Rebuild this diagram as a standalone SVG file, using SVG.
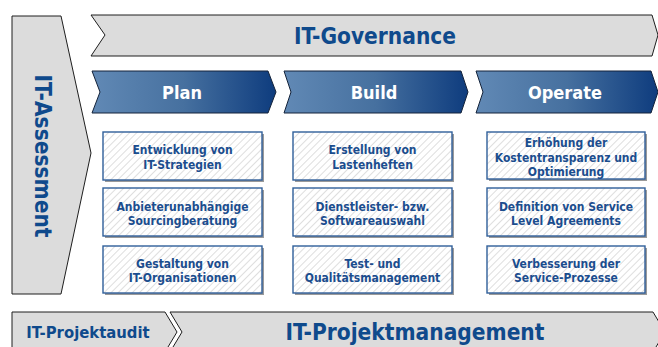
<svg xmlns="http://www.w3.org/2000/svg" width="658" height="347" viewBox="0 0 658 347">
<style>
.gray{fill:#dcdcdc;stroke:#1e1e1e;stroke-width:1}
.chev{fill:url(#blueGrad);stroke:#14233a;stroke-width:1}
.box{fill:url(#hatch);stroke:#2f5f9a;stroke-width:1.4}
.shadow{fill:#9a9a9a}
.t{font-family:"DejaVu Sans Condensed","DejaVu Sans",sans-serif;font-stretch:condensed;font-weight:bold;text-anchor:middle}
.big{font-size:22.5px;fill:#0f4a8c}
.hdr{font-size:18px;fill:#ffffff}
.bx{font-size:12px;fill:#1b4d8e}
.mid{font-size:16.5px;fill:#0f4a8c}
</style>
<defs>
<linearGradient id="blueGrad" x1="0" y1="0" x2="1" y2="0">
<stop offset="0" stop-color="#6189b5"/>
<stop offset="0.5" stop-color="#46709f"/>
<stop offset="1" stop-color="#0e3c7e"/>
</linearGradient>
<pattern id="hatch" patternUnits="userSpaceOnUse" width="5" height="5" patternTransform="rotate(45)">
<rect width="5" height="5" fill="#ffffff"/>
<line x1="0" y1="0" x2="0" y2="5" stroke="#d6d6d6" stroke-width="1.6"/>
</pattern>
</defs>

<g id="it-assessment">
<polygon class="gray" points="12,16 61,16 91,153 61,294 12,294"/>
<text class="t big" transform="translate(35,156) rotate(90)">IT-Assessment</text>
</g>

<g id="it-governance">
<polygon class="gray" points="91,15 652,15 658,35 652,56 91,56 105,35"/>
<text class="t big" x="375" y="44">IT-Governance</text>
</g>

<g id="plan">
<polygon class="chev" points="92,71 268,71 276,92 268,113 92,113 100,92"/>
<text class="t hdr" x="182" y="99">Plan</text>
</g>
<g id="build">
<polygon class="chev" points="284,71 461,71 468,92 461,113 284,113 291,92"/>
<text class="t hdr" x="374" y="99">Build</text>
</g>
<g id="operate">
<polygon class="chev" points="476,71 651,71 658,92 651,113 476,113 483,92"/>
<text class="t hdr" x="565" y="99">Operate</text>
</g>

<g id="plan-1">
<rect class="shadow" x="105" y="134" width="159" height="48"/>
<rect class="box" x="103" y="132" width="159" height="48"/>
<text class="t bx" x="182.5" y="154">Entwicklung von</text>
<text class="t bx" x="182.5" y="168.5">IT-Strategien</text>
</g>
<g id="plan-2">
<rect class="shadow" x="105" y="190" width="159" height="48"/>
<rect class="box" x="103" y="188" width="159" height="48"/>
<text class="t bx" x="182.5" y="210.5">Anbieterunabhängige</text>
<text class="t bx" x="182.5" y="225">Sourcingberatung</text>
</g>
<g id="plan-3">
<rect class="shadow" x="105" y="248" width="159" height="47"/>
<rect class="box" x="103" y="246" width="159" height="47"/>
<text class="t bx" x="182.5" y="267.5">Gestaltung von</text>
<text class="t bx" x="182.5" y="282">IT-Organisationen</text>
</g>

<g id="build-1">
<rect class="shadow" x="295" y="134" width="159" height="48"/>
<rect class="box" x="293" y="132" width="159" height="48"/>
<text class="t bx" x="372.5" y="154">Erstellung von</text>
<text class="t bx" x="372.5" y="168.5">Lastenheften</text>
</g>
<g id="build-2">
<rect class="shadow" x="295" y="190" width="159" height="48"/>
<rect class="box" x="293" y="188" width="159" height="48"/>
<text class="t bx" x="372.5" y="210.5">Dienstleister- bzw.</text>
<text class="t bx" x="372.5" y="225">Softwareauswahl</text>
</g>
<g id="build-3">
<rect class="shadow" x="295" y="248" width="159" height="47"/>
<rect class="box" x="293" y="246" width="159" height="47"/>
<text class="t bx" x="372.5" y="267.5">Test- und</text>
<text class="t bx" x="372.5" y="282">Qualitätsmanagement</text>
</g>

<g id="operate-1">
<rect class="shadow" x="489" y="134" width="158" height="47"/>
<rect class="box" x="487" y="132" width="158" height="47"/>
<text class="t bx" x="566" y="147">Erhöhung der</text>
<text class="t bx" x="566" y="161.5">Kostentransparenz und</text>
<text class="t bx" x="566" y="176">Optimierung</text>
</g>
<g id="operate-2">
<rect class="shadow" x="489" y="190" width="158" height="48"/>
<rect class="box" x="487" y="188" width="158" height="48"/>
<text class="t bx" x="566" y="210.5">Definition von Service</text>
<text class="t bx" x="566" y="225">Level Agreements</text>
</g>
<g id="operate-3">
<rect class="shadow" x="489" y="248" width="158" height="47"/>
<rect class="box" x="487" y="246" width="158" height="47"/>
<text class="t bx" x="566" y="267.5">Verbesserung der</text>
<text class="t bx" x="566" y="282">Service-Prozesse</text>
</g>

<g id="it-projektaudit">
<polygon class="gray" points="12,312 165,312 177,332 165,352 12,352"/>
<text class="t mid" x="88" y="338">IT-Projektaudit</text>
</g>
<g id="it-projektmanagement">
<polygon class="gray" points="170,312 653,312 665,332 653,352 170,352 182,332"/>
<text class="t big" x="415" y="340">IT-Projektmanagement</text>
</g>

<g id="connectors"></g>
</svg>
